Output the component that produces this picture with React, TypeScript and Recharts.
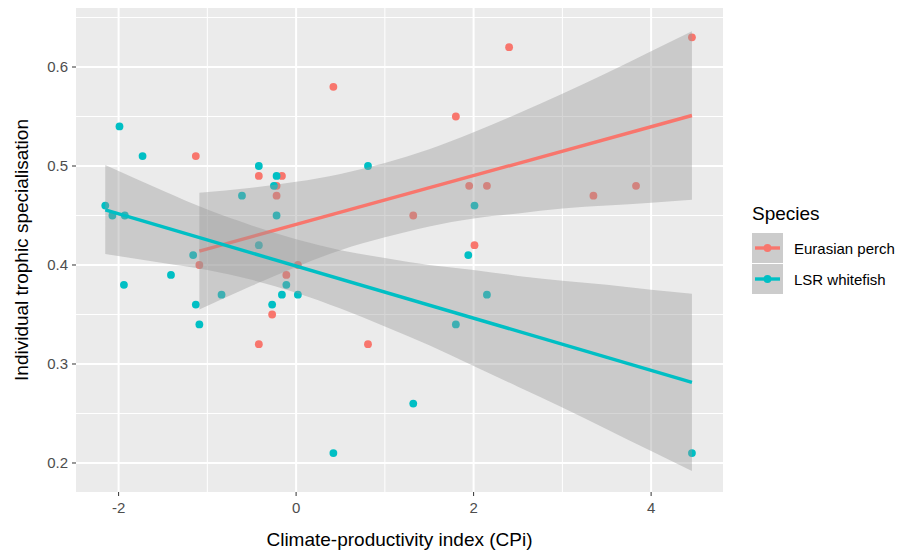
import React from "react";
import {
  ComposedChart,
  Scatter,
  Line,
  Area,
  XAxis,
  YAxis,
  CartesianGrid,
} from "recharts";

const PERCH = "#F8766D";
const WHITEFISH = "#00BFC4";
const FONT = "'Liberation Sans', Arial, Helvetica, sans-serif";

const perchCpi = [
  -1.13, -0.42, -0.16, -0.22, -0.22, -1.09, -0.11, 0.02, -0.27, -0.42, 2.4,
  4.46, 1.8, 1.95, 2.15, 3.35, 3.83, 1.32, 2.01, 0.42, 0.81,
];
const perchSpec = [
  0.51, 0.49, 0.49, 0.48, 0.47, 0.4, 0.39, 0.4, 0.35, 0.32, 0.62, 0.63, 0.55,
  0.48, 0.48, 0.47, 0.48, 0.45, 0.42, 0.58, 0.32,
];
const whitefishCpi = [
  -1.99, -1.73, -0.42, -0.22, -0.25, -0.61, -0.22, -2.15, -2.07, -1.93, -0.42,
  -1.16, -1.94, -1.41, -1.13, -1.09, -0.84, -0.27, -0.16, -0.11, 0.02, 0.42,
  0.81, 2.01, 1.94, 2.15, 1.8, 1.32, 4.46,
];
const whitefishSpec = [
  0.54, 0.51, 0.5, 0.49, 0.48, 0.47, 0.45, 0.46, 0.45, 0.45, 0.42, 0.41, 0.38,
  0.39, 0.36, 0.34, 0.37, 0.36, 0.37, 0.38, 0.37, 0.21, 0.5, 0.46, 0.41, 0.37,
  0.34, 0.26, 0.21,
];

// fitted lines (ends)
const perchFitCpi = [-1.09, 4.46];
const perchFitSpec = [0.414, 0.551];
const whitefishFitCpi = [-2.15, 4.46];
const whitefishFitSpec = [0.4556, 0.2815];

// confidence ribbons
const perchBandCpi = [-1.09, -0.5, 0, 0.5, 1, 1.5, 2, 2.5, 3, 3.5, 4, 4.46];
const perchBandLow = [
  0.355, 0.379, 0.398, 0.415, 0.428, 0.439, 0.447, 0.452, 0.457, 0.46, 0.463,
  0.466,
];
const perchBandHigh = [
  0.473, 0.478, 0.484, 0.492, 0.503, 0.517, 0.534, 0.553, 0.573, 0.594, 0.616,
  0.636,
];
const whitefishBandCpi = [
  -2.15, -1.5, -1, -0.5, 0, 0.5, 1, 1.5, 2, 2.5, 3, 3.5, 4, 4.46,
];
const whitefishBandLow = [
  0.411, 0.402, 0.395, 0.385, 0.372, 0.356, 0.338, 0.319, 0.298, 0.277, 0.256,
  0.234, 0.212, 0.192,
];
const whitefishBandHigh = [
  0.501, 0.475, 0.456, 0.44, 0.426, 0.415, 0.407, 0.4, 0.395, 0.389, 0.384,
  0.38, 0.375, 0.371,
];

const xTicks = [-2, 0, 2, 4];
const yTicks = [0.2, 0.3, 0.4, 0.5, 0.6];
const xMinor = [-1, 1, 3];
const yMinor = [0.25, 0.35, 0.45, 0.55, 0.65];

const species = ["Eurasian perch", "LSR whitefish"];
const speciesColors = [PERCH, WHITEFISH];

const toPoints = (xs: number[], ys: number[]) =>
  xs.map((x, i) => ({ x, y: ys[i] }));
const toBand = (xs: number[], lo: number[], hi: number[]) =>
  xs.map((x, i) => ({ x, band: [lo[i], hi[i]] }));

const perchPoints = toPoints(perchCpi, perchSpec);
const whitefishPoints = toPoints(whitefishCpi, whitefishSpec);
const perchFit = toPoints(perchFitCpi, perchFitSpec);
const whitefishFit = toPoints(whitefishFitCpi, whitefishFitSpec);
const perchBand = toBand(perchBandCpi, perchBandLow, perchBandHigh);
const whitefishBand = toBand(whitefishBandCpi, whitefishBandLow, whitefishBandHigh);

const dot = (color: string) => (props: any) =>
  <circle cx={props.cx} cy={props.cy} r={3.9} fill={color} />;

const tickStyle = { fill: "#4D4D4D", fontSize: 15, fontFamily: FONT };

function SpeciesLegend() {
  return (
    <div style={{ position: "absolute", left: 752, top: 202, fontFamily: FONT }}>
      <div style={{ fontSize: 19, color: "#000", lineHeight: "24px", marginBottom: 7 }}>
        Species
      </div>
      {species.map((name, i) => (
        <div key={name} style={{ display: "flex", alignItems: "center", height: 31 }}>
          <svg width={31} height={31} style={{ display: "block" }}>
            <rect x={0} y={0} width={31} height={30} fill="#CCCCCC" />
            <line x1={3} x2={28} y1={15} y2={15} stroke={speciesColors[i]} strokeWidth={3.4} />
            <circle cx={15.5} cy={15} r={3.9} fill={speciesColors[i]} />
          </svg>
          <span style={{ fontSize: 15, color: "#000", marginLeft: 11 }}>{name}</span>
        </div>
      ))}
    </div>
  );
}

// draw order like ggplot: points, then each group's ribbon + fit line
const Z = { points: 10, perchBand: 20, perchLine: 30, fishBand: 40, fishLine: 50 };

export default function App() {
  const z = (v: number) => ({ zIndex: v } as any);
  return (
    <div style={{ position: "absolute", left: 0, top: 0, width: 903, height: 552, background: "#fff", fontFamily: FONT }}>
      <ComposedChart
        width={903}
        height={552}
        margin={{ top: 8, right: 180, bottom: 0, left: 0 }}
      >
        <CartesianGrid
          fill="#EBEBEB"
          stroke="#FFFFFF"
          strokeWidth={1}
          horizontalValues={yMinor}
          verticalValues={xMinor}
        />
        <CartesianGrid
          stroke="#FFFFFF"
          strokeWidth={2}
          horizontalValues={yTicks}
          verticalValues={xTicks}
        />
        <XAxis
          dataKey="x"
          type="number"
          domain={[-2.48, 4.81]}
          ticks={xTicks}
          allowDataOverflow
          height={60}
          axisLine={false}
          tickLine={{ stroke: "#333333" }}
          tickSize={4}
          tickMargin={6}
          tick={tickStyle}
          label={{
            value: "Climate-productivity index (CPi)",
            position: "insideBottom",
            offset: 6,
            style: { fill: "#000", fontSize: 19, fontFamily: FONT },
          }}
        />
        <YAxis
          type="number"
          domain={[0.1707, 0.6596]}
          ticks={yTicks}
          allowDataOverflow
          width={76}
          axisLine={false}
          tickLine={{ stroke: "#333333" }}
          tickSize={4}
          tickMargin={4}
          tick={tickStyle}
          tickFormatter={(v: number) => v.toFixed(1)}
          label={{
            value: "Individual trophic specialisation",
            angle: -90,
            position: "insideLeft",
            offset: 21,
            style: { textAnchor: "middle", fill: "#000", fontSize: 19, fontFamily: FONT },
          }}
        />
        <Scatter
          data={perchPoints}
          dataKey="y"
          shape={dot(PERCH)}
          isAnimationActive={false}
          {...z(Z.points)}
        />
        <Scatter
          data={whitefishPoints}
          dataKey="y"
          shape={dot(WHITEFISH)}
          isAnimationActive={false}
          {...z(Z.points)}
        />
        <Area
          data={perchBand}
          dataKey="band"
          type="monotone"
          stroke="none"
          fill="#999999"
          fillOpacity={0.4}
          isAnimationActive={false}
          {...z(Z.perchBand)}
        />
        <Line
          data={perchFit}
          dataKey="y"
          stroke={PERCH}
          strokeWidth={3.4}
          dot={false}
          activeDot={false}
          isAnimationActive={false}
          {...z(Z.perchLine)}
        />
        <Area
          data={whitefishBand}
          dataKey="band"
          type="monotone"
          stroke="none"
          fill="#999999"
          fillOpacity={0.4}
          isAnimationActive={false}
          {...z(Z.fishBand)}
        />
        <Line
          data={whitefishFit}
          dataKey="y"
          stroke={WHITEFISH}
          strokeWidth={3.4}
          dot={false}
          activeDot={false}
          isAnimationActive={false}
          {...z(Z.fishLine)}
        />
      </ComposedChart>
      <SpeciesLegend />
    </div>
  );
}
